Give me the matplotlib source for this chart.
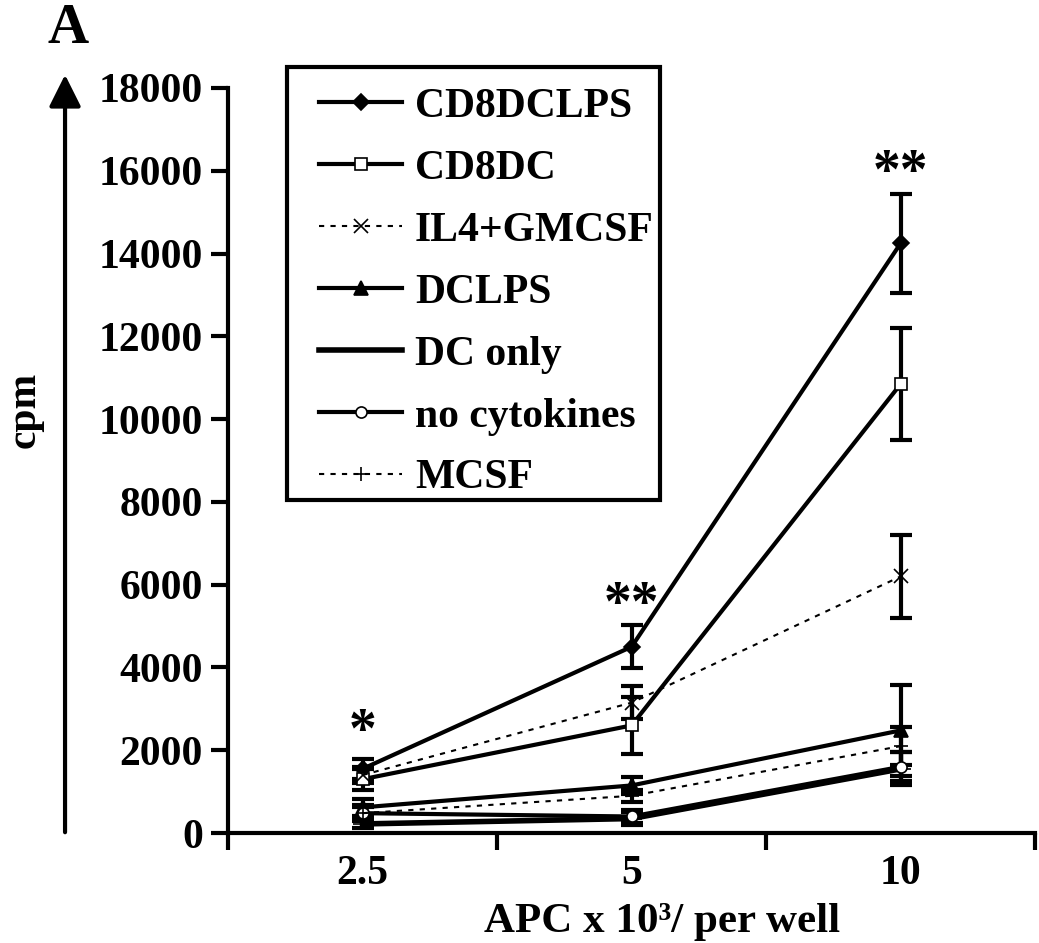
import matplotlib.pyplot as plt
from matplotlib.lines import Line2D
from matplotlib.patches import FancyArrowPatch, Rectangle

plt.rcParams['font.family'] = ['Liberation Serif', 'DejaVu Serif']
plt.rcParams['font.weight'] = 'bold'

# APC doses and proliferation (cpm) per culture condition
doses = ['2.5', '5', '10']
cd8dclps = [1550, 4500, 14250]
cd8dclps_err = [250, 520, 1200]
cd8dc = [1300, 2600, 10850]
cd8dc_err = [250, 680, 1360]
il4_gmcsf = [1400, 3150, 6200]
il4_gmcsf_err = [200, 400, 1000]
dclps = [620, 1150, 2480]
dclps_err = [200, 200, 1100]
dc_only = [220, 350, 1550]
dc_only_err = [100, 150, 400]
no_cyto = [480, 400, 1600]
no_cyto_err = [200, 150, 350]
mcsf = [480, 900, 2100]
mcsf_err = [150, 150, 450]
stars = ['*', '**', '**']
star_y = [1800, 4850, 15300]

series = [
    ('CD8DCLPS', cd8dclps, cd8dclps_err, '-', 'D', 'k', 3.0, 8),
    ('CD8DC', cd8dc, cd8dc_err, '-', 's', 'white', 3.0, 8),
    ('IL4+GMCSF', il4_gmcsf, il4_gmcsf_err, (0, (2.5, 3)), 'x', 'k', 1.5, 10),
    ('DCLPS', dclps, dclps_err, '-', '^', 'k', 3.0, 10),
    ('DC only', dc_only, dc_only_err, '-', '_', 'k', 4.0, 14),
    ('no cytokines', no_cyto, no_cyto_err, '-', 'o', 'white', 3.0, 8),
    ('MCSF', mcsf, mcsf_err, (0, (2.5, 3)), '+', 'k', 1.5, 10),
]

fig = plt.figure(figsize=(10.39, 9.43), dpi=100)
ax = fig.add_axes([0.2194, 0.1166, 0.777, 0.7901])

xpos = [0.5, 1.5, 2.5]
handles = []
for name, vals, err, ls, mk, fc, lw, ms in series:
    ax.errorbar(xpos, vals, yerr=err, fmt='none', ecolor='k', elinewidth=3,
                capsize=8, capthick=3, zorder=2)
    ax.plot(xpos, vals, linestyle=ls, color='k', linewidth=lw, marker=mk,
            markersize=ms, markerfacecolor=fc, markeredgecolor='k',
            markeredgewidth=1.2, zorder=3)
    handles.append(Line2D([], [], linestyle=ls, color='k', linewidth=lw, marker=mk,
                          markersize=ms, markerfacecolor=fc, markeredgecolor='k',
                          markeredgewidth=1.2, label=name))

for xp, s, sy in zip(xpos, stars, star_y):
    ax.text(xp, sy, s, ha='center', va='bottom', fontsize=40, fontweight='bold')

ax.set_xlim(0, 3)
ax.set_ylim(0, 18000)
ax.set_yticks(range(0, 18001, 2000))
ax.set_xticks([0, 1, 2, 3])
ax.set_xticklabels([])
ax.set_xticks(xpos, minor=True)
ax.set_xticklabels(doses, minor=True)
ax.tick_params(axis='x', which='minor', length=0, pad=16, labelsize=30)
ax.tick_params(axis='x', which='major', length=12, width=3, direction='out')
ax.tick_params(axis='y', length=12, width=3, direction='out', labelsize=30, pad=6)
for lab in ax.get_yticklabels() + ax.get_xticklabels(minor=True):
    lab.set_fontweight('bold')
ax.spines['top'].set_visible(False)
ax.spines['right'].set_visible(False)
ax.spines['left'].set_linewidth(3)
ax.spines['bottom'].set_linewidth(3)

fig.text(0.637, 1 - 932 / 943, 'APC x 10³/ per well', ha='center', va='baseline',
         fontsize=31, fontweight='bold')

# legend entries without frame, box drawn separately
leg = fig.legend(handles=handles, loc='upper left', bbox_to_anchor=(0.2870, 0.929),
                 borderaxespad=0, frameon=False, fontsize=30, handlelength=2.0,
                 labelspacing=0.57, borderpad=0.5, handletextpad=0.3)
for t in leg.get_texts():
    t.set_fontweight('bold')
fig.patches.append(Rectangle((287 / 1039, 1 - 500 / 943), 373 / 1039, 433 / 943,
                             transform=fig.transFigure, fill=False,
                             edgecolor='k', linewidth=3))

# vertical arrow with cpm label on the left
fig.patches.append(FancyArrowPatch(
    (0.0626, 0.1145), (0.0626, 1 - 72 / 943), transform=fig.transFigure,
    arrowstyle='-|>,head_length=1.3,head_width=0.65', linewidth=3, color='k',
    mutation_scale=15))
fig.text(0.024, 0.565, 'cpm', rotation=90, ha='center', va='center',
         fontsize=30, fontweight='bold')
fig.text(0.046, 1 - 43 / 943, 'A', ha='left', va='baseline', fontsize=41, fontweight='bold')

fig.savefig('out.png', dpi=100)
